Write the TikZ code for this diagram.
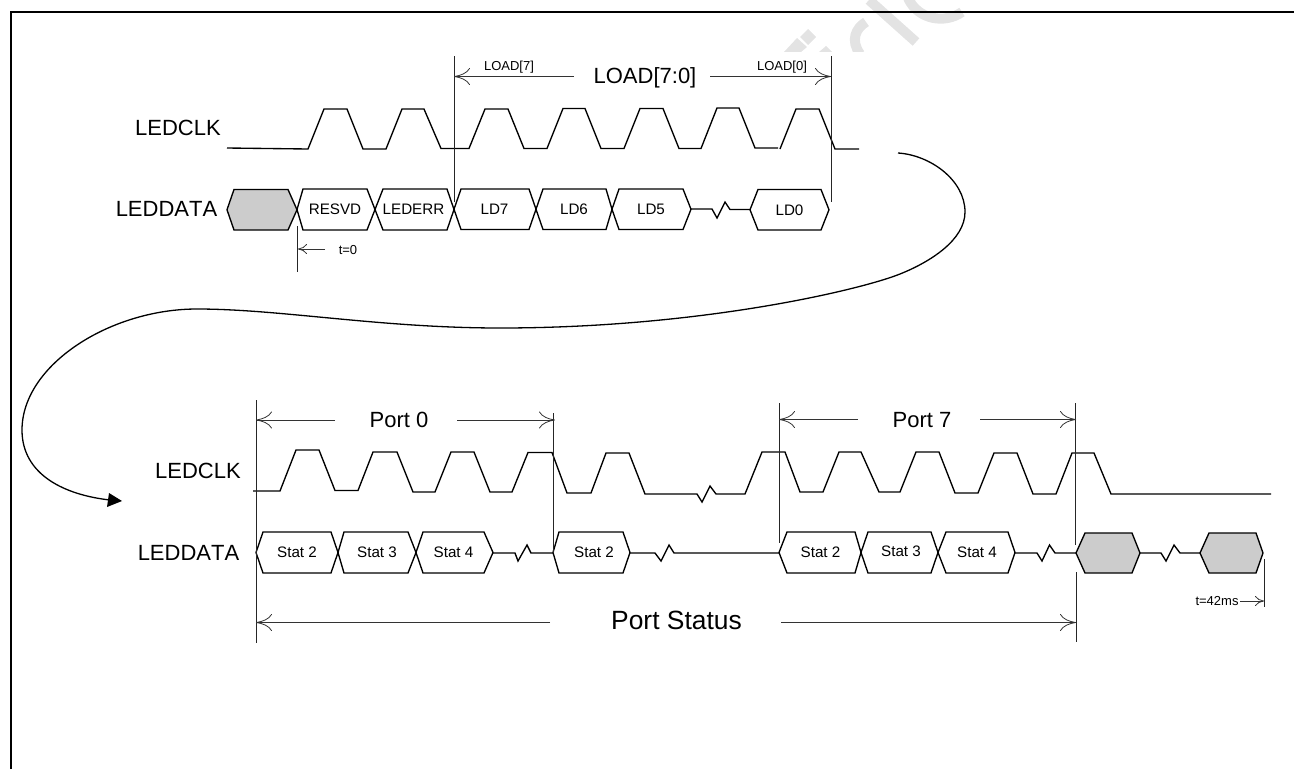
\documentclass[tikz,border=0pt]{standalone}
\usepackage{fontspec}
\setmainfont[Kerning=Off]{Liberation Sans}
\usetikzlibrary{arrows.meta}
\definecolor{wm}{gray}{0.89}
\definecolor{cellgray}{gray}{0.8}
\tikzset{
  frameline/.style={line width=2pt,black},
  wave/.style={line width=1.35pt,black,line join=miter},
  hexbox/.style={line width=1.35pt,black,line join=miter},
  guide/.style={line width=0.9pt,black!85},
  dimline/.style={line width=0.8pt,black!80,-{Computer Modern Rightarrow[length=16pt,width=17pt,line width=0.8pt]}},
  tinydim/.style={line width=0.8pt,black!80,-{Computer Modern Rightarrow[length=9pt,width=10pt,line width=0.8pt]}},
  biglabel/.style={inner sep=0pt,text height=15.8pt,text depth=0pt,font=\fontsize{22}{24}\selectfont},
  hugelabel/.style={inner sep=0pt,text height=18.9pt,text depth=0pt,font=\fontsize{26.4}{28}\selectfont},
  celllabel/.style={inner sep=0pt,text height=10.9pt,text depth=0pt,font=\fontsize{15.2}{17}\selectfont},
  smalllabel/.style={inner sep=0pt,text height=9.3pt,text depth=0pt,font=\fontsize{13}{15}\selectfont},
  watermark/.style={line width=10pt,wm},
}
% fill, name, x0, xa, xb, x1, ytop|ybot, label
\newcommand\wavehex[8]{%
  \draw[hexbox,fill=#1] (#3,#7/2+#8/2) -- (#4,#7) -- (#5,#7) -- (#6,#7/2+#8/2) -- (#5,#8) -- (#4,#8) -- cycle;
}
\begin{document}
\begin{tikzpicture}[x=1pt,y=-1pt]
\useasboundingbox (0,0) rectangle (1294,769);
% faint watermark fragments
\begin{scope}
\clip (700,0) rectangle (1000,51);
\draw[watermark] (869,0) -- (916,42);
\draw[watermark] (866,22) .. controls (856,28) and (850,40) .. (860,54);
\draw[watermark] (908,-2) .. controls (918,20) and (945,24) .. (962,12);
\fill[wm] (808,29) -- (816,37) -- (808,45) -- (800,37) -- cycle;
\fill[wm] (784,52) -- (797,38) -- (807,47) -- (801,52) -- cycle;
\fill[wm] (819,52) -- (826,46) -- (832,52) -- cycle;
\end{scope}
% frame
\draw[frameline] (10.5,769) -- (10.5,12) -- (1294,12);

% ---------- top group ----------
\node[biglabel] (clkA) at (178,128) {LEDCLK};
\node[biglabel] (dataA) at (166.5,209) {LEDDATA};
\draw[wave] (227,148) -- (308,149) -- (324,109) -- (347,109) -- (363,149) -- (386,149) -- (402,109) -- (424,109) -- (441,148.5) -- (469,148.5)
  -- (485,109) -- (508,109) -- (524,148.5) -- (547,148.5) -- (563,108.5) -- (585,108.5) -- (601,148.5) -- (624,148.5) -- (640,108.5) -- (663,108.5)
  -- (679,148.5) -- (701,148.5) -- (717,108) -- (739,108) -- (755,148) -- (778,148);
\draw[wave] (780,149) -- (796,109) -- (819,109) -- (835,149) -- (859,149);

\newcommand\celltext[4]{\node[celllabel] (#1) at (#2,#3) {#4};}
\wavehex{cellgray}{g1}{227}{234}{288}{297}{189.5}{230}
\wavehex{white}{h1}{297}{303}{367}{375}{189}{230}
\wavehex{white}{h2}{375}{383}{447}{454}{189}{230}
\wavehex{white}{h3}{454}{461}{529}{536}{189}{229.5}
\wavehex{white}{h4}{536}{543}{606}{612}{189}{229.5}
\wavehex{white}{h5}{612}{619}{683}{691}{189}{229.5}
\wavehex{white}{h6}{750}{758}{821}{829}{189.5}{230}
\celltext{tRESVD}{335}{209.5}{RESVD}
\celltext{tLEDERR}{413.5}{209.5}{LEDERR}
\celltext{tLD7}{494.5}{209.5}{LD7}
\celltext{tLD6}{574}{209.5}{LD6}
\celltext{tLD5}{651}{209.5}{LD5}
\celltext{tLD0}{789.5}{210}{LD0}
\draw[wave] (691,209) -- (712,209) -- (717,218) -- (725,202) -- (730,209.5) -- (750,209.5);

\coordinate (a0) at (454,56);
\coordinate (a1) at (454,202);
\coordinate (b0) at (831,56);
\coordinate (b1) at (831,202);
\draw[guide] (a0) -- (a1);
\draw[guide] (b0) -- (b1);
\coordinate (aL) at (454,76.5);
\coordinate (bR) at (831,76.5);
\coordinate (aS) at (574,76.5);
\coordinate (bS) at (710,76.5);
\draw[dimline] (aS) -- (aL);
\draw[dimline] (bS) -- (bR);
\node[biglabel] (load) at (645,76) {LOAD[7:0]};
\node[smalllabel] (load7) at (509,66) {LOAD[7]};
\node[smalllabel] (load0) at (782,66) {LOAD[0]};

\coordinate (t0a) at (297,226);
\coordinate (t0b) at (297,272);
\draw[guide] (t0a) -- (t0b);
\coordinate (t0s) at (325,249);
\coordinate (t0e) at (298,249);
\draw[tinydim] (t0s) -- (t0e);
\node[smalllabel] (t0) at (348,249.5) {t=0};

% ---------- connecting curve ----------
\coordinate (cs) at (898,153);
\coordinate (ce) at (110,500);
\draw[line width=1.3pt,black] (cs) .. controls (930,155) and (965,180) .. (965,212)
  .. controls (965,240) and (930,262) .. (900,274)
  .. controls (860,290) and (700,328) .. (500,328)
  .. controls (380,328) and (280,309) .. (197,309)
  .. controls (110,309) and (22,365) .. (22,430)
  .. controls (22,475) and (65,495) .. (ce);
\fill[black] (122,501) -- (109,493) -- (107,507) -- cycle;

% ---------- bottom group ----------
\node[biglabel] (clkB) at (198,471) {LEDCLK};
\node[biglabel] (dataB) at (188.5,553) {LEDDATA};
\draw[wave] (253,491) -- (280,491) -- (296,450) -- (319,450) -- (335,490.5) -- (358,490.5) -- (373,452) -- (397,452) -- (413,492) -- (435,492)
  -- (451,452) -- (474,452) -- (490,492) -- (512,492) -- (528,452.5) -- (552,452.5) -- (567,493) -- (591,493) -- (606,453) -- (629,453)
  -- (645,494) -- (697,494) -- (702,502) -- (710,486) -- (716,494) -- (745,494) -- (762,452) -- (785,452) -- (800,492) -- (823,492)
  -- (839,452) -- (861,452) -- (879,492) -- (900,492) -- (916,452) -- (939,452) -- (955,493) -- (978,493) -- (994,453) -- (1017,453)
  -- (1033,494) -- (1056,494) -- (1072,453) -- (1094,453) -- (1111,494) -- (1271,494);

\wavehex{white}{s1}{256}{263}{331}{338}{532}{573}
\wavehex{white}{s2}{338}{344}{408}{416}{532}{573}
\wavehex{white}{s3}{416}{423}{484}{493}{532}{573}
\wavehex{white}{s4}{553}{559}{623}{630}{532}{573}
\wavehex{white}{s5}{779}{787}{855}{861}{532}{573}
\wavehex{white}{s6}{861}{868}{931}{938}{532}{573}
\wavehex{white}{s7}{938}{946}{1008}{1015}{532}{573}
\wavehex{cellgray}{g2}{1076}{1085}{1132}{1140}{533}{573}
\wavehex{cellgray}{g3}{1200}{1209}{1256}{1263}{533}{573}
\celltext{tS1}{297}{552}{Stat 2}
\celltext{tS2}{377}{552}{Stat 3}
\celltext{tS3}{453.5}{552}{Stat 4}
\celltext{tS4}{594}{552}{Stat 2}
\celltext{tS5}{820.5}{552}{Stat 2}
\celltext{tS6}{901}{551.5}{Stat 3}
\celltext{tS7}{977}{552}{Stat 4}
\draw[wave] (493,553) -- (515,553) -- (518,561) -- (527,545) -- (531,553) -- (553,553);
\draw[wave] (630,553) -- (655,553) -- (661,561) -- (669,545) -- (674,553) -- (779,553);
\draw[wave] (1015,553) -- (1037,553) -- (1042,561) -- (1049.5,545) -- (1055,553) -- (1076,553);
\draw[wave] (1140,553) -- (1161,553) -- (1166,561) -- (1174,545) -- (1180,553) -- (1200,553);

\coordinate (p0a) at (256,400);
\coordinate (p0b) at (256,643);
\coordinate (p1a) at (553,413);
\coordinate (p1b) at (553,553);
\coordinate (p2a) at (779,403);
\coordinate (p2b) at (779,543);
\coordinate (p3a) at (1075.5,403);
\coordinate (p3b) at (1075.5,545);
\coordinate (p4a) at (1076,572);
\coordinate (p4b) at (1076,642);
\draw[guide] (p0a) -- (p0b);
\draw[guide] (p1a) -- (p1b);
\draw[guide] (p2a) -- (p2b);
\draw[guide] (p3a) -- (p3b);
\draw[guide] (p4a) -- (p4b);

\coordinate (q0L) at (256,420);
\coordinate (q0l) at (335,420);
\coordinate (q0r) at (457,420);
\coordinate (q0R) at (555,420);
\draw[dimline] (q0l) -- (q0L);
\draw[dimline] (q0r) -- (q0R);
\node[biglabel] (port0) at (399,419.5) {Port 0};

\coordinate (q7L) at (779,419.5);
\coordinate (q7l) at (858,419.5);
\coordinate (q7r) at (980,419.5);
\coordinate (q7R) at (1076,419.5);
\draw[dimline] (q7l) -- (q7L);
\draw[dimline] (q7r) -- (q7R);
\node[biglabel] (port7) at (922,419.5) {Port 7};

\coordinate (qsL) at (256,622.5);
\coordinate (qsl) at (550,622.5);
\coordinate (qsr) at (781,622.5);
\coordinate (qsR) at (1076,622.5);
\draw[dimline] (qsl) -- (qsL);
\draw[dimline] (qsr) -- (qsR);
\node[hugelabel] (portstatus) at (676.5,620) {Port Status};

\coordinate (t4a) at (1264.5,559);
\coordinate (t4b) at (1264.5,607);
\draw[guide] (t4a) -- (t4b);
\coordinate (t4s) at (1240,601);
\coordinate (t4e) at (1264,601);
\draw[tinydim] (t4s) -- (t4e);
\node[smalllabel] (t42) at (1217,601) {t=42ms};
\end{tikzpicture}
\end{document}
